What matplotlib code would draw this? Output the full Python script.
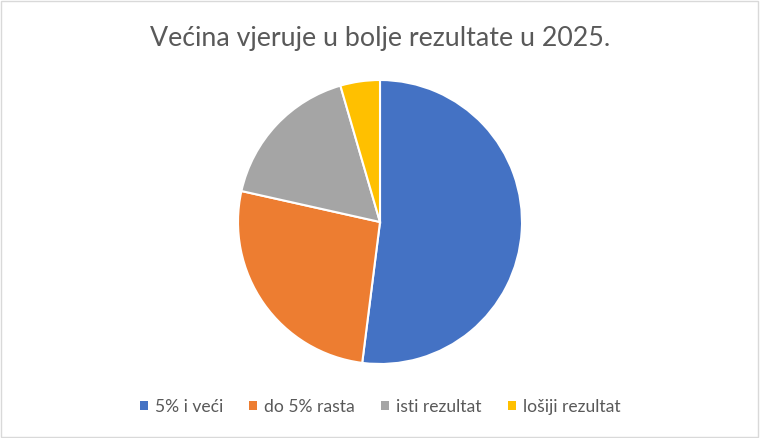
import matplotlib
matplotlib.use("Agg")
import matplotlib.pyplot as plt
from matplotlib.patches import Rectangle, Patch

categories = ["5% i veći", "do 5% rasta", "isti rezultat", "lošiji rezultat"]
values = [52, 26.5, 17, 4.5]
colors = ["#4472C4", "#ED7D31", "#A5A5A5", "#FFC000"]
title = "Većina vjeruje u bolje rezultate u 2025."

plt.rcParams['font.family'] = ['Lato', 'DejaVu Sans']

fig = plt.figure(figsize=(7.6, 4.38), dpi=100)
fig.patch.set_facecolor("white")
fig.add_artist(Rectangle((0.001, 0.002), 0.997, 0.995, transform=fig.transFigure,
                         fill=False, edgecolor="#D9D9D9", linewidth=1.0))

w = 284 / 760
h = 284 / 438
cx, cy = 380 / 760, (438 - 222) / 438
ax = fig.add_axes([cx - w / 2, cy - h / 2, w, h])
ax.pie(values, colors=colors, startangle=90, counterclock=False,
       wedgeprops=dict(edgecolor="white", linewidth=1.5), radius=1)
ax.set_xlim(-1.0, 1.0)
ax.set_ylim(-1.0, 1.0)
ax.set_aspect("equal")
ax.axis("off")

fig.text(0.5, 0.913, title, ha="center", va="center", fontsize=19.3, color="#595959")

handles = [Patch(facecolor=c, edgecolor="none") for c in colors]
fig.legend(handles, categories, loc="center", bbox_to_anchor=(0.5, 0.071), ncol=4,
           frameon=False, fontsize=12.6, labelcolor="#595959", handlelength=0.45,
           handleheight=0.45, handletextpad=0.4, columnspacing=1.5)

fig.savefig("out.png", dpi=100)
